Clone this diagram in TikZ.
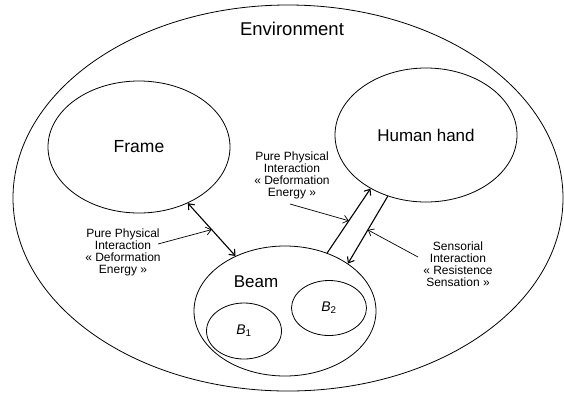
\documentclass[tikz,border=0pt]{standalone}
\usepackage{fontspec}
\setmainfont{Liberation Sans}
\usetikzlibrary{shapes.geometric, arrows.meta}

\definecolor{strokecol}{rgb}{0,0,0}

\begin{document}
\begin{tikzpicture}[x=1pt, y=-1pt,
    blob/.style={ellipse, draw=strokecol, line width=0.8pt, inner sep=0pt},
    bigtext/.style={font=\fontsize{17}{20}\selectfont},
    subtext/.style={font=\fontsize{14}{16}\selectfont},
    smalltext/.style={font=\fontsize{12}{12}\selectfont, align=center, inner sep=0pt},
    link/.style={draw=strokecol, line width=1.1pt, >={Straight Barb[length=5pt,width=8pt]}},
    pointer/.style={draw=strokecol, line width=0.7pt, ->, >={Straight Barb[length=5pt,width=8pt]}}]

    \def\bodyW{182pt}
    \def\bodyH{132pt}
    \def\partW{75pt}
    \def\partH{55pt}

    \useasboundingbox (0,0) rectangle (564,392);

    % environment
    \node[blob, minimum width=550pt, minimum height=386pt] (env) at (288,198) {};
    \node[font=\fontsize{18.5}{21}\selectfont] (envlabel) at (292,29) {Environment};

    % bodies
    \node[blob, font=\fontsize{17.5}{20}\selectfont, minimum width=\bodyW, minimum height=\bodyH] (frame) at (139,147) {Frame};
    \node[blob, bigtext, minimum width=\bodyW, minimum height=134pt] (hand) at (426,135) {Human hand};
    \node[blob, minimum width=\bodyW, minimum height=130pt] (beam) at (285,311) {};
    \node[bigtext] (beamlabel) at (256,282) {Beam};

    % beam parts
    \node[blob, subtext, minimum width=\partW, minimum height=56pt] (b1) at (244,331) {\textit{B}\textsubscript{1}};
    \node[blob, subtext, minimum width=\partW, minimum height=\partH] (b2) at (329,308) {\textit{B}\textsubscript{2}};

    % interactions
    \draw[link, <->] (frame.-49) -- coordinate (mid1) (beam.132);
    \draw[link, ->] (beam.54) -- coordinate (mid2) (hand.-136);
    \draw[link, ->] (hand.-122) -- coordinate (mid3) (beam.37);

    % labels
    \node[smalltext] (phys1) at (123,252) {Pure Physical\\Interaction\\« Deformation\\Energy »};
    \node[smalltext] (phys2) at (292,175) {Pure Physical\\Interaction\\« Deformation\\Energy »};
    \node[smalltext] (sens) at (458,264) {Sensorial\\Interaction\\« Resistence\\Sensation »};

    \coordinate (tail1) at (158,244);
    \coordinate (tail2) at (290,204);
    \coordinate (tail3) at (418,257);
    \draw[pointer] (tail1) -- (mid1);
    \draw[pointer] (tail2) -- (mid2);
    \draw[pointer] (tail3) -- (mid3);
\end{tikzpicture}
\end{document}
